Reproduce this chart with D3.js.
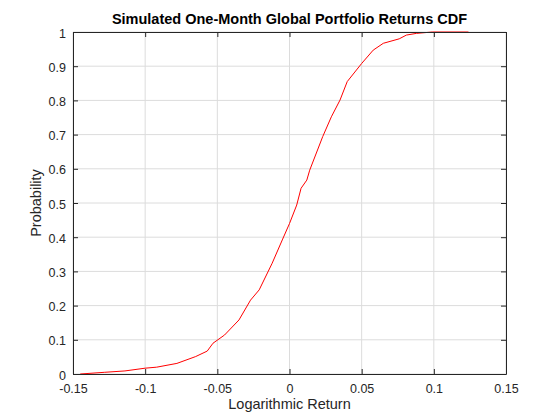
<!DOCTYPE html>
<html>
<head>
<meta charset="utf-8">
<script src="https://cdn.jsdelivr.net/npm/d3@7"></script>
<style>
  body { margin: 0; background: #fff; }
  svg { display: block; font-family: "Liberation Sans", Arial, sans-serif; }
  .grid line { stroke: #dcdcdc; }
  .tick text { fill: #262626; font-size: 12.5px; }
</style>
</head>
<body>
<div id="chart"></div>
<script>
let returns = [-0.145, -0.128, -0.114, -0.100, -0.092, -0.078, -0.065, -0.057, -0.053, -0.045,
  -0.035, -0.027, -0.021, -0.012, -0.005, 0.000, 0.005, 0.008, 0.012, 0.014,
  0.023, 0.029, 0.035, 0.040, 0.050, 0.058, 0.065, 0.076, 0.081, 0.088, 0.099, 0.124]
let probs = [0.000, 0.005, 0.009, 0.017, 0.020, 0.031, 0.051, 0.067, 0.090, 0.114,
  0.158, 0.216, 0.246, 0.324, 0.392, 0.440, 0.494, 0.543, 0.567, 0.596,
  0.694, 0.752, 0.801, 0.855, 0.908, 0.947, 0.967, 0.980, 0.991, 0.996, 1.000, 1.000]
let xTicks = [-0.15, -0.1, -0.05, 0, 0.05, 0.1, 0.15]
let yTicks = [0, 0.1, 0.2, 0.3, 0.4, 0.5, 0.6, 0.7, 0.8, 0.9, 1]

let width = 560, height = 420
let margin = { top: 32, right: 54, bottom: 46, left: 73 }
let w = width - margin.left - margin.right
let h = height - margin.top - margin.bottom

let svg = d3.select('#chart')
  .append('svg')
  .attr('width', width)
  .attr('height', height)

let g = svg.append('g')
  .attr('transform', `translate(${margin.left}, ${margin.top})`)

let x = d3.scaleLinear().domain([-0.15, 0.15]).range([0, w])
let y = d3.scaleLinear().domain([0, 1]).range([h, 0])

// plain hyphen minus like the original
let fmt = d => String(+d.toFixed(2))

// grid
g.append('g')
  .attr('class', 'grid')
  .selectAll('line')
  .data(xTicks)
  .enter()
  .append('line')
  .attr('x1', d => x(d)).attr('x2', d => x(d))
  .attr('y1', 0).attr('y2', h)
g.append('g')
  .attr('class', 'grid')
  .selectAll('line')
  .data(yTicks)
  .enter()
  .append('line')
  .attr('y1', d => y(d)).attr('y2', d => y(d))
  .attr('x1', 0).attr('x2', w)

// curve
let pts = returns.map((r, i) => [r, probs[i]])
g.append('path')
  .datum(pts)
  .attr('fill', 'none')
  .attr('stroke', '#ff0000')
  .attr('stroke-width', 1)
  .attr('d', d3.line().x(d => x(d[0])).y(d => y(d[1])))

// axes, ticks pointing inward
let xAxis = g.append('g')
  .attr('transform', `translate(0, ${h})`)
  .call(d3.axisBottom(x).tickValues(xTicks).tickFormat(fmt).tickSizeInner(-5).tickSizeOuter(0).tickPadding(10))
g.append('g')
  .call(d3.axisTop(x).tickValues(xTicks).tickFormat('').tickSizeInner(-5).tickSizeOuter(0))
let yAxis = g.append('g')
  .call(d3.axisLeft(y).tickValues(yTicks).tickFormat(fmt).tickSizeInner(-5).tickSizeOuter(0).tickPadding(7))
g.append('g')
  .attr('transform', `translate(${w}, 0)`)
  .call(d3.axisRight(y).tickValues(yTicks).tickFormat('').tickSizeInner(-5).tickSizeOuter(0))

svg.selectAll('.domain').attr('stroke', '#262626')
svg.selectAll('.tick line').attr('stroke', '#262626')
xAxis.selectAll('.tick text').attr('dy', '0.71em')
yAxis.selectAll('.tick text').attr('dy', '0.4em')

// labels
svg.append('text')
  .attr('x', margin.left + w / 2)
  .attr('y', 24)
  .attr('text-anchor', 'middle')
  .style('font-size', '14.5px')
  .style('font-weight', 'bold')
  .attr('fill', '#000')
  .text('Simulated One-Month Global Portfolio Returns CDF')

svg.append('text')
  .attr('x', margin.left + w / 2)
  .attr('y', 409)
  .attr('text-anchor', 'middle')
  .style('font-size', '14.5px')
  .attr('fill', '#262626')
  .text('Logarithmic Return')

svg.append('text')
  .attr('transform', `translate(41, ${margin.top + h / 2}) rotate(-90)`)
  .attr('text-anchor', 'middle')
  .style('font-size', '14.5px')
  .attr('fill', '#262626')
  .text('Probability')
</script>
</body>
</html>
